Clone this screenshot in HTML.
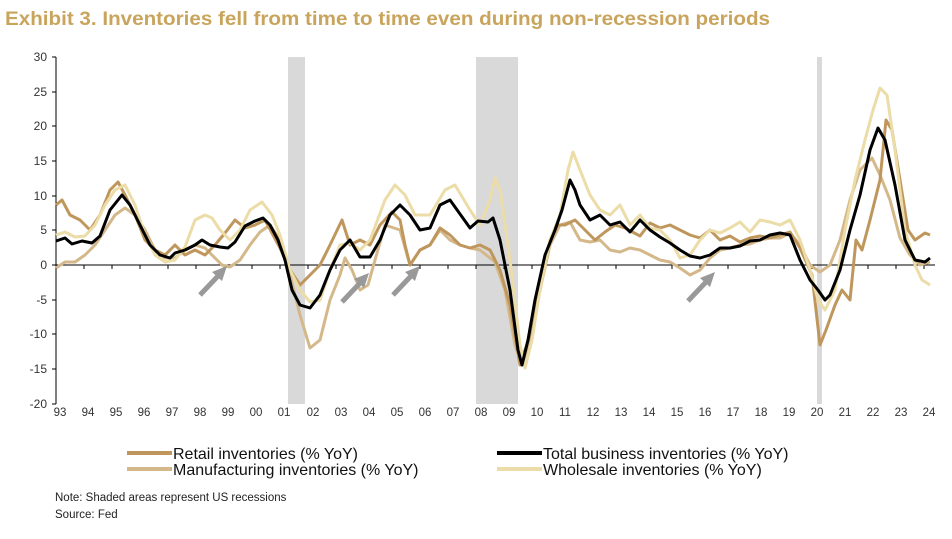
<!DOCTYPE html>
<html><head><meta charset="utf-8"><style>
body{margin:0;background:#fff;width:952px;height:534px;overflow:hidden;font-family:"Liberation Sans",sans-serif}
</style></head><body>
<svg width="952" height="534" viewBox="0 0 952 534" xmlns="http://www.w3.org/2000/svg" font-family="Liberation Sans, sans-serif">
<text x="5" y="25" font-size="19" font-weight="bold" fill="#c9a45c" textLength="765" lengthAdjust="spacingAndGlyphs">Exhibit 3. Inventories fell from time to time even during non-recession periods</text>
<rect x="288" y="57" width="17" height="347" fill="#d9d9d9"/>
<rect x="476" y="57" width="42" height="347" fill="#d9d9d9"/>
<rect x="817" y="57" width="5" height="347" fill="#d9d9d9"/>
<g stroke="#000" stroke-width="1" fill="none">
<line x1="56" y1="57" x2="56" y2="404"/>
<line x1="56" y1="265" x2="935" y2="265"/>
<path d="M52 57H56M52 92H56M52 126H56M52 161H56M52 196H56M52 230H56M52 265H56M52 300H56M52 334H56M52 369H56M52 404H56"/>
<path id="xt" d="M84 265v4M112 265v4M140 265v4M168 265v4M196 265v4M224 265v4M252 265v4M280 265v4M308 265v4M336 265v4M364 265v4M392 265v4M420 265v4M448 265v4M476 265v4M504 265v4M532 265v4M560 265v4M588 265v4M616 265v4M644 265v4M672 265v4M700 265v4M728 265v4M756 265v4M784 265v4M812 265v4M840 265v4M868 265v4M896 265v4M924 265v4"/>
</g>
<g font-size="12" fill="#333" text-anchor="end">
<text x="47" y="61">30</text><text x="47" y="96">25</text><text x="47" y="130">20</text><text x="47" y="165">15</text><text x="47" y="200">10</text><text x="47" y="234">5</text><text x="47" y="269">0</text><text x="47" y="304">-5</text><text x="47" y="338">-10</text><text x="47" y="373">-15</text><text x="47" y="408">-20</text>
</g>
<g font-size="11.5" fill="#333" text-anchor="middle">
<text x="60" y="416">93</text><text x="88" y="416">94</text><text x="116" y="416">95</text><text x="144" y="416">96</text><text x="172" y="416">97</text><text x="200" y="416">98</text><text x="228" y="416">99</text><text x="256" y="416">00</text><text x="284" y="416">01</text><text x="313" y="416">02</text><text x="341" y="416">03</text><text x="369" y="416">04</text><text x="397" y="416">05</text><text x="425" y="416">06</text><text x="453" y="416">07</text><text x="481" y="416">08</text><text x="509" y="416">09</text><text x="537" y="416">10</text><text x="565" y="416">11</text><text x="593" y="416">12</text><text x="621" y="416">13</text><text x="649" y="416">14</text><text x="677" y="416">15</text><text x="705" y="416">16</text><text x="733" y="416">17</text><text x="761" y="416">18</text><text x="789" y="416">19</text><text x="817" y="416">20</text><text x="845" y="416">21</text><text x="873" y="416">22</text><text x="901" y="416">23</text><text x="929" y="416">24</text>
</g>
<g fill="none" stroke-width="3" stroke-linejoin="round">
<polyline stroke="#d4b88a" points="56,268 65,262 75,262 85,255 95,245 105,230 115,215 125,208 135,215 145,230 155,250 165,258 175,258 185,250 195,245 205,248 215,258 222,265 230,267 240,260 250,245 260,232 270,225 280,240 290,275 300,315 310,348 320,340 330,300 340,275 345,258 352,270 360,290 368,285 375,260 385,225 400,230 410,265 420,250 430,245 440,230 450,240 460,245 470,248 480,250 495,262 505,290 515,345 522,365 530,340 540,290 550,245 560,225 570,222 580,240 590,242 600,240 610,250 620,252 630,248 640,250 650,255 660,260 670,262 680,268 690,275 700,270 710,258 720,250 730,248 740,245 750,244 760,240 770,238 780,238 790,233 800,245 810,265 820,272 830,265 840,240 850,200 860,170 872,158 880,175 890,200 900,238 910,255 920,265 930,262"/>
<polyline stroke="#bf965c" points="56,205 62,200 70,215 80,220 90,230 100,215 110,190 118,182 125,195 135,215 145,240 155,250 165,255 175,245 185,255 195,250 205,255 215,245 225,233 235,220 245,228 255,225 265,220 280,248 290,270 300,285 310,275 320,265 330,245 342,220 350,245 360,240 370,245 380,225 392,212 400,220 405,245 410,265 420,250 430,245 440,228 450,235 460,245 470,248 480,245 490,250 500,270 510,305 520,365 530,335 540,290 550,240 558,225 565,225 575,220 585,230 595,240 605,232 615,225 625,228 640,236 650,223 660,228 670,225 680,230 690,235 700,238 710,230 720,240 730,236 740,242 750,238 760,236 770,238 790,232 800,248 812,275 820,345 826,330 835,305 842,290 850,300 856,240 862,250 870,220 880,180 886,120 892,130 900,180 908,230 915,240 925,233 930,235"/>
<polyline stroke="#ecdca8" points="56,235 65,232 75,237 85,236 95,225 105,205 115,190 125,185 135,205 145,235 155,255 165,262 175,260 185,247 195,220 205,215 212,218 220,230 230,240 240,230 250,210 262,202 272,215 280,235 290,270 300,290 310,302 320,300 330,270 340,245 350,243 360,250 370,240 385,200 395,185 405,195 415,215 430,215 445,190 455,185 470,210 480,225 490,200 495,178 500,190 510,260 520,345 525,368 532,340 540,290 550,240 560,215 568,170 573,152 580,170 590,195 600,210 610,215 620,205 630,225 640,215 650,228 660,230 670,240 680,258 690,255 700,240 710,230 720,233 730,228 740,222 750,232 760,220 770,222 780,225 790,220 800,240 810,270 818,300 825,310 835,290 845,230 855,180 865,140 873,110 880,88 887,95 895,150 905,230 915,265 922,280 930,285"/>
<polyline stroke="#000" points="56,241 65,238 72,244 82,241 92,243 100,236 110,210 122,195 130,205 140,225 150,245 160,255 170,258 175,253 185,250 195,245 202,240 210,245 220,247 228,248 235,242 245,226 255,221 263,218 270,225 278,240 285,260 292,290 300,305 310,308 320,295 330,270 340,250 350,240 360,257 370,257 380,240 390,215 400,205 410,215 420,230 430,228 440,205 450,200 460,214 470,228 478,221 488,222 493,218 500,240 510,290 518,350 522,365 528,340 535,300 545,255 555,230 562,210 570,180 575,190 580,205 590,220 600,215 610,225 620,222 630,232 640,220 650,230 660,237 670,243 680,250 690,256 700,258 710,255 720,248 730,248 740,246 750,241 760,240 770,235 780,233 790,235 800,260 810,280 818,290 825,300 830,295 840,270 850,230 860,195 870,150 878,128 885,140 895,185 905,240 915,260 925,262 930,258"/>
</g>
<g stroke="#999" stroke-width="5" fill="#999">
<line x1="200" y1="295" x2="218" y2="276"/><polygon stroke="none" points="227,266 212,272 222,281"/>
<line x1="342" y1="302" x2="360" y2="283"/><polygon stroke="none" points="369,273 354,279 364,288"/>
<line x1="393" y1="295" x2="411" y2="276"/><polygon stroke="none" points="420,266 405,272 415,281"/>
<line x1="688" y1="301" x2="706" y2="282"/><polygon stroke="none" points="715,272 700,278 710,287"/>
</g>
<g stroke-width="4">
<line x1="127" y1="453" x2="172" y2="453" stroke="#bf965c"/>
<line x1="127" y1="469" x2="172" y2="469" stroke="#d4b88a"/>
<line x1="497" y1="453" x2="542" y2="453" stroke="#000"/>
<line x1="497" y1="469" x2="542" y2="469" stroke="#ecdca8"/>
</g>
<g font-size="16" fill="#111">
<text x="173" y="459">Retail inventories (% YoY)</text>
<text x="173" y="475">Manufacturing inventories (% YoY)</text>
<text x="543" y="459">Total business inventories (% YoY)</text>
<text x="543" y="475">Wholesale inventories (% YoY)</text>
</g>
<g font-size="11.5" fill="#222">
<text x="55" y="501">Note: Shaded areas represent US recessions</text>
<text x="55" y="518">Source: Fed</text>
</g>
</svg>
</body></html>
